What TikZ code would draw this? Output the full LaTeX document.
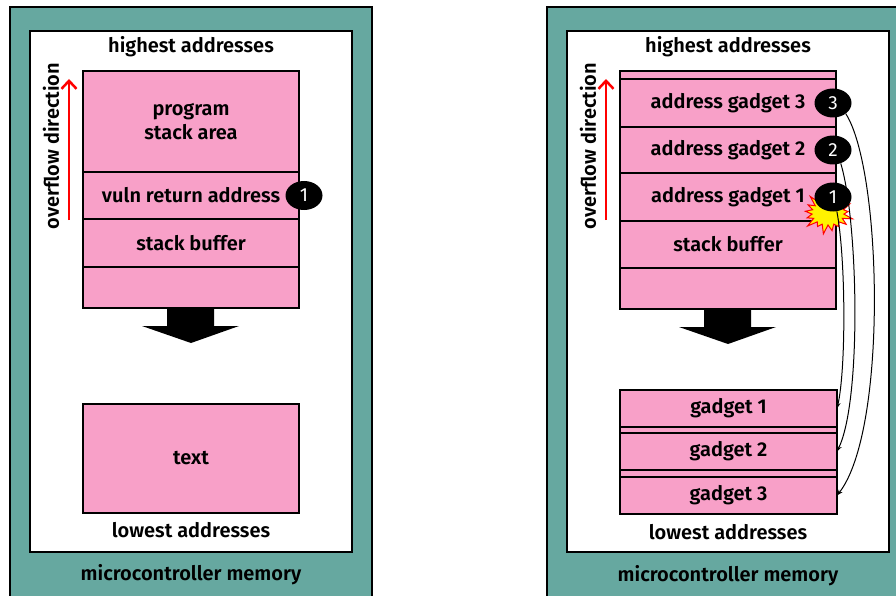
\documentclass[tikz,border=0pt]{standalone}
\usepackage{fontspec}
\setmainfont{Fira Sans}[BoldFont={Fira Sans SemiBold}]
\usetikzlibrary{positioning,shapes.geometric,shapes.symbols,arrows.meta}
\definecolor{memteal}{RGB}{102,168,160}
\definecolor{cellpink}{RGB}{248,160,200}

\begin{document}
\begin{tikzpicture}[x=1pt, y=-1pt,
  every node/.style={font=\fontsize{20}{24}\selectfont\bfseries, inner sep=0pt},
  cell/.style={draw, fill=cellpink, line width=2.5pt, outer sep=0pt,
               minimum width=216pt, align=center},
  badge/.style={ellipse, fill=black, text=white, minimum width=37pt,
                minimum height=29pt, font=\fontsize{19}{22}\selectfont},
  jump/.style={-{Stealth[length=6pt,width=4.5pt]}, line width=1pt}]
\useasboundingbox (0,0) rectangle (896,596);

% left: plain stack overflow
\filldraw[fill=memteal, line width=2pt] (10,7) rectangle (372,620);
\filldraw[fill=white, line width=2.5pt] (30,31) rectangle (352,552);

\node (high) at (191,47) {highest addresses};
\node [cell, minimum height=101pt] (prog) at (191,121.5) {program\\stack area};
\node [cell, minimum height=47pt, below=0pt of prog] (vuln) {vuln return address};
\node [cell, minimum height=48pt, below=0pt of vuln] (buf) {stack buffer};
\node [cell, minimum height=41pt, below=0pt of buf] (free) {};
\node [badge] (one) at ([xshift=5pt]vuln.east) {1};

\coordinate (ovstart) at (69,220);
\coordinate (ovend) at (69,79);
\draw [red, line width=2.5pt, -{Straight Barb[length=8pt,width=15pt]}] (ovstart) -- (ovend);
\node [rotate=90] (ovtext) at (51,146) {overflow direction};

\fill (167,308) -- (214,308) -- (214,326) -- (239,326) -- (191,343)
      -- (142,326) -- (167,326) -- cycle;

\node [cell, minimum height=109pt] (text) at (191,458.5) {text};
\node (low) at (191,530) {lowest addresses};
\node (mem) at (191,575) {microcontroller memory};

% right: return oriented programming
\filldraw[fill=memteal, line width=2pt] (547,7) rectangle (909,620);
\filldraw[fill=white, line width=2.5pt] (567,31) rectangle (889,552);

\node (rhigh) at (728,47) {highest addresses};
\node [cell, minimum height=8pt] (rtop) at (728,75) {};
\node [cell, minimum height=48pt, below=0pt of rtop] (addr3) {address gadget 3};
\node [cell, minimum height=46pt, below=0pt of addr3] (addr2) {address gadget 2};
\node [cell, minimum height=48pt, below=0pt of addr2] (addr1) {address gadget 1};
\node [cell, minimum height=47pt, below=0pt of addr1] (rbuf) {stack buffer};
\node [cell, minimum height=41pt, below=0pt of rbuf] (rfree) {};

\node [starburst, fill=yellow, draw=red, line width=1pt, minimum width=54pt,
       minimum height=46pt, starburst point height=11pt] (boom) at (828,213) {};

\node [badge] (b3) at ([xshift=-3pt]addr3.east) {3};
\node [badge] (b2) at ([xshift=-3pt]addr2.east) {2};
\node [badge] (b1) at ([xshift=-3pt]addr1.east) {1};

\coordinate (rovstart) at (606,220);
\coordinate (rovend) at (606,79);
\draw [red, line width=2.5pt, -{Straight Barb[length=8pt,width=15pt]}] (rovstart) -- (rovend);
\node [rotate=90] (rovtext) at (588,146) {overflow direction};

\fill (704,309) -- (751,309) -- (751,327) -- (776,327) -- (728,344)
      -- (679,327) -- (704,327) -- cycle;

\node [cell, minimum width=217pt, minimum height=37pt] (g1) at (728.5,408.5) {gadget 1};
\node [cell, minimum width=217pt, minimum height=6pt, below=0pt of g1] (gap1) {};
\node [cell, minimum width=217pt, minimum height=37pt, below=0pt of gap1] (g2) {gadget 2};
\node [cell, minimum width=217pt, minimum height=7pt, below=0pt of g2] (gap2) {};
\node [cell, minimum width=217pt, minimum height=37pt, below=0pt of gap2] (g3) {gadget 3};
\node (rlow) at (728,532) {lowest addresses};
\node (rmem) at (728,576) {microcontroller memory};

\draw [jump] (b3.-40) .. controls (882,170) and (888,430) .. (g3.east);
\draw [jump] (b2.-60) .. controls (858,220) and (862,400) .. (g2.east);
\draw [jump] (b1.-75) .. controls (846,260) and (846,370) .. (g1.east);

\end{tikzpicture}
\end{document}
